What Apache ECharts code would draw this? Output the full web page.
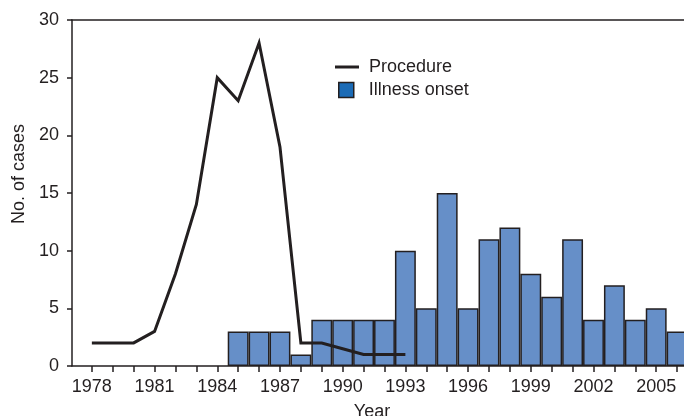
<!DOCTYPE html>
<html>
<head>
<meta charset="utf-8">
<script src="https://cdn.jsdelivr.net/npm/echarts@6/dist/echarts.min.js"></script>
<style>html,body{margin:0;padding:0;background:#fff}#c{width:684px;height:416px}</style>
</head>
<body>
<div id="c"></div>
<script>
// ---- data ----
const procedureYears = [1978,1979,1980,1981,1982,1983,1984,1985,1986,1987,1988,1989,1990,1991,1992,1993];
const procedureCases = [2,2,2,3,8,14,25,23,28,19,2,2,1.5,1,1,1];
const onsetYears = [1985,1986,1987,1988,1989,1990,1991,1992,1993,1994,1995,1996,1997,1998,1999,2000,2001,2002,2003,2004,2005,2006];
const onsetCases = [3,3,3,1,4,4,4,4,10,5,15,5,11,12,8,6,11,4,7,4,5,3];
const xTickYears = [1978,1979,1980,1981,1982,1983,1984,1985,1986,1987,1988,1989,1990,1991,1992,1993,1994,1995,1996,1997,1998,1999,2000,2001,2002,2003,2004,2005,2006];
const xLabelYears = [1978,1981,1984,1987,1990,1993,1996,1999,2002,2005];
const yTicks = [0,5,10,15,20,25,30];

const FONT = "'Liberation Sans', Arial, Helvetica, sans-serif";
const INK = '#231f20';

const chart = echarts.init(document.getElementById('c'), null, {renderer: 'canvas'});
chart.setOption({
  animation: false,
  backgroundColor: '#fff',
  textStyle: {fontFamily: FONT, color: INK},
  grid: {left: 72, top: 20, right: 0, bottom: 50, containLabel: false, outerBoundsMode: 'none'},
  legend: [{
    data: [{name: 'Procedure', icon: 'rect'}],
    left: 330, top: 53, itemWidth: 24, itemHeight: 3,
    textStyle: {fontFamily: FONT, fontSize: 18, color: INK, padding: [0, 0, 0, 5]},
    selectedMode: false
  }, {
    data: [{name: 'Illness onset', icon: 'rect', itemStyle: {color: '#1b6bb6', borderColor: INK, borderWidth: 1.5}}],
    left: 333, top: 76, itemWidth: 15, itemHeight: 15,
    textStyle: {fontFamily: FONT, fontSize: 18, color: INK, padding: [0, 0, 0, 10]},
    selectedMode: false
  }],
  xAxis: [{
    type: 'value', min: 1977.05, max: 2006.33,
    name: 'Year', nameLocation: 'middle', nameGap: 37,
    nameTextStyle: {fontFamily: FONT, fontSize: 18, color: INK, padding: [0, 12, 0, 0]},
    axisLine: {show: true, lineStyle: {color: INK, width: 1.5}},
    axisTick: {show: true, length: 6, lineStyle: {color: INK, width: 1.5}, customValues: xTickYears},
    axisLabel: {fontFamily: FONT, fontSize: 18, color: INK, margin: 12, customValues: xLabelYears, formatter: v => String(v)},
    splitLine: {show: false}
  }, {
    type: 'value', position: 'top', min: 1977.05, max: 2006.33,
    axisLine: {show: true, onZero: false, lineStyle: {color: INK, width: 1.5}},
    axisTick: {show: false}, axisLabel: {show: false}, splitLine: {show: false}
  }],
  yAxis: {
    type: 'value', min: 0, max: 30, interval: 5,
    name: 'No. of cases', nameLocation: 'middle', nameGap: 42,
    nameTextStyle: {fontFamily: FONT, fontSize: 18, color: INK, padding: [0, 0, 0, 38]},
    axisLine: {show: true, lineStyle: {color: INK, width: 1.5}},
    axisTick: {show: true, length: 5, lineStyle: {color: INK, width: 1.5}},
    axisLabel: {fontFamily: FONT, fontSize: 18, color: INK, margin: 13},
    splitLine: {show: false}
  },
  series: [{
    name: 'Illness onset', type: 'bar', xAxisIndex: 0,
    data: onsetYears.map((y, i) => [y, onsetCases[i]]),
    barWidth: '100%',
    itemStyle: {color: '#668fc8', borderColor: INK, borderWidth: 1.5},
    z: 2
  }, {
    name: 'Procedure', type: 'line', xAxisIndex: 0,
    data: procedureYears.map((y, i) => [y, procedureCases[i]]),
    showSymbol: false, symbol: 'none',
    lineStyle: {color: INK, width: 3, join: 'miter'},
    itemStyle: {color: INK},
    z: 3
  }]
});
</script>
</body>
</html>
